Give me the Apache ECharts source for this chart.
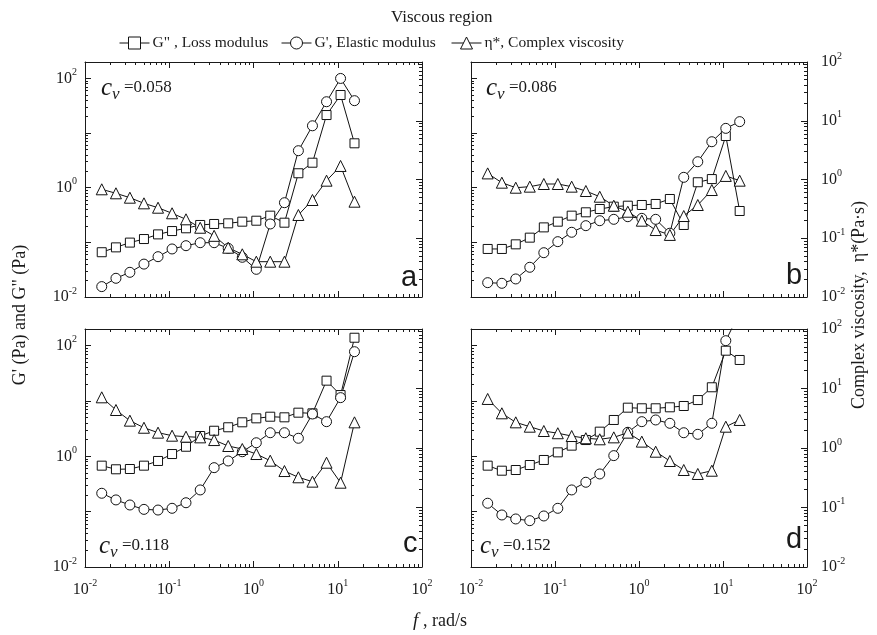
<!DOCTYPE html>
<html><head><meta charset="utf-8">
<script src="https://cdn.jsdelivr.net/npm/echarts@6/dist/echarts.min.js"></script>
<style>html,body{margin:0;padding:0;background:#fff}#c{width:877px;height:635px}</style>
</head><body><div id="c"></div><script>
// ---- data ----
const freq = [0.0158, 0.0233, 0.0341, 0.0501, 0.0736, 0.108, 0.158, 0.233, 0.341, 0.501, 0.736, 1.08, 1.58, 2.33, 3.41, 5.01, 7.36, 10.8, 15.8];

const lossA = [0.066, 0.081, 0.099, 0.115, 0.14, 0.161, 0.181, 0.208, 0.217, 0.223, 0.239, 0.249, 0.308, 0.229, 1.84, 2.87, 21.4, 49.8, 6.5];
const elasticA = [0.0155, 0.022, 0.0283, 0.040, 0.0547, 0.0757, 0.0869, 0.0986, 0.0986, 0.0778, 0.0533, 0.0321, 0.217, 0.532, 4.76, 13.6, 37.5, 100, 39.2];
const viscA = [0.681, 0.582, 0.49, 0.393, 0.331, 0.266, 0.21, 0.151, 0.11, 0.069, 0.0533, 0.0399, 0.0399, 0.0399, 0.249, 0.448, 0.955, 1.70, 0.419];

const lossB = [0.0757, 0.0757, 0.092, 0.122, 0.188, 0.239, 0.308, 0.355, 0.408, 0.45, 0.469, 0.483, 0.504, 0.622, 0.208, 1.26, 1.44, 8.85, 0.375];
const elasticB = [0.0183, 0.0178, 0.0214, 0.035, 0.0647, 0.103, 0.153, 0.202, 0.249, 0.264, 0.295, 0.275, 0.264, 0.147, 1.55, 2.99, 6.95, 12.2, 16.2];
const viscB = [1.27, 0.883, 0.725, 0.755, 0.838, 0.838, 0.755, 0.637, 0.509, 0.358, 0.283, 0.199, 0.138, 0.114, 0.239, 0.368, 0.662, 1.15, 0.955];

const lossC = [0.678, 0.583, 0.59, 0.678, 0.824, 1.10, 1.49, 2.33, 2.90, 3.35, 4.12, 4.86, 5.20, 5.07, 6.15, 5.98, 23.3, 12.8, 139];
const elasticC = [0.215, 0.163, 0.132, 0.110, 0.107, 0.115, 0.145, 0.247, 0.624, 0.824, 1.21, 1.76, 2.67, 2.67, 2.12, 5.82, 4.23, 11.5, 77.8];
const viscC = [7.11, 4.35, 2.88, 2.19, 1.81, 1.61, 1.55, 1.51, 1.36, 1.08, 0.962, 0.792, 0.612, 0.41, 0.322, 0.272, 0.566, 0.261, 2.70];

const lossD = [0.678, 0.55, 0.566, 0.697, 0.859, 1.18, 1.56, 1.97, 2.79, 4.54, 7.57, 7.38, 7.38, 7.69, 8.12, 10.4, 17.7, 81.1, 55.1];
const elasticD = [0.142, 0.0871, 0.0738, 0.0687, 0.0836, 0.115, 0.247, 0.34, 0.48, 1.03, 2.72, 4.23, 4.54, 3.95, 2.67, 2.5, 3.95, 123, 400];
const viscD = [6.67, 3.83, 2.70, 2.28, 1.93, 1.77, 1.59, 1.46, 1.40, 1.51, 1.81, 1.28, 0.867, 0.605, 0.427, 0.366, 0.415, 2.28, 2.96];

const panelLetters = ['a', 'b', 'c', 'd'];
const cvValues = ['0.058', '0.086', '0.118', '0.152'];
const tickExponents = ['-2', '-1', '0', '1', '2'];
const leftTickExponents = ['-2', '0', '2'];
const seriesNames = ['G" , Loss modulus', "G', Elastic modulus", 'η*, Complex viscosity'];

// ---- layout ----
const SERIF = '"Liberation Serif", "Times New Roman", serif';
const SANS = '"Liberation Sans", Arial, sans-serif';
const INK = '#1a1a1a';
const grids = [
  {left: 85, top: 62, width: 337, height: 235},
  {left: 471, top: 62, width: 336, height: 235},
  {left: 85, top: 329, width: 337, height: 238},
  {left: 471, top: 329, width: 336, height: 238}
];
const panels = [
  {loss: lossA, elastic: elasticA, visc: viscA},
  {loss: lossB, elastic: elasticB, visc: viscB},
  {loss: lossC, elastic: elasticC, visc: viscC},
  {loss: lossD, elastic: elasticD, visc: viscD}
];

function makeFormatter(allowed) {
  return function (v) {
    const e = Math.log10(v);
    const r = Math.round(e);
    if (Math.abs(e - r) > 1e-6) return '';
    const idx = allowed.indexOf(String(r));
    if (idx < 0) return '';
    return '10{s|' + allowed[idx] + '}';
  };
}
const labelRich = {s: {fontSize: 10, lineHeight: 10, padding: [0, 0, 12, 0], fontFamily: SERIF, color: INK}};

function mkAxis(opts) {
  return Object.assign({
    type: 'log', logBase: 10,
    axisLine: {show: true, onZero: false, lineStyle: {color: INK, width: 1}},
    axisTick: {show: true, inside: true, length: 6, lineStyle: {color: INK, width: 1}},
    minorTick: {show: true, splitNumber: 9, length: 3, lineStyle: {color: INK, width: 1}},
    splitLine: {show: false}, minorSplitLine: {show: false},
    axisLabel: {show: false}
  }, opts);
}
const lblBase = {fontSize: 16, lineHeight: 17, fontFamily: SERIF, color: INK, rich: labelRich};

const xAxes = [], yAxes = [], series = [];
grids.forEach((g, i) => {
  xAxes.push(mkAxis({gridIndex: i, position: 'bottom', min: 0.01, max: 100,
    axisLabel: Object.assign({show: i >= 2, formatter: makeFormatter(tickExponents), margin: 14, showMinLabel: true, showMaxLabel: true}, lblBase)}));
  xAxes.push(mkAxis({gridIndex: i, position: 'top', min: 0.01, max: 100}));
  yAxes.push(mkAxis({gridIndex: i, position: 'left', min: 0.01, max: 200,
    axisLabel: Object.assign({show: i % 2 === 0, formatter: makeFormatter(leftTickExponents), margin: 8}, lblBase)}));
  yAxes.push(mkAxis({gridIndex: i, position: 'right', min: 0.01, max: 100,
    axisLabel: Object.assign({show: i % 2 === 1, formatter: makeFormatter(tickExponents), margin: 14}, lblBase)}));
  const p = panels[i];
  const common = {type: 'line', xAxisIndex: 2 * i, clip: true, showAllSymbol: true,
    lineStyle: {color: '#111', width: 1}, itemStyle: {color: '#fff', borderColor: '#111', borderWidth: 1},
    emphasis: {disabled: true}, animation: false};
  series.push(Object.assign({}, common, {name: seriesNames[0], yAxisIndex: 2 * i, symbol: 'rect', symbolSize: 9,
    data: freq.map((f, k) => [f, p.loss[k]])}));
  series.push(Object.assign({}, common, {name: seriesNames[1], yAxisIndex: 2 * i, symbol: 'circle', symbolSize: 10,
    data: freq.map((f, k) => [f, p.elastic[k]])}));
  series.push(Object.assign({}, common, {name: seriesNames[2], yAxisIndex: 2 * i + 1, symbol: 'triangle', symbolSize: 11,
    data: freq.map((f, k) => [f, p.visc[k]])}));
});

const cvPos = [{left: 96, top: 72}, {left: 481, top: 72}, {left: 94, top: 530}, {left: 475, top: 530}];
const letterPos = [{left: 396, top: 258}, {left: 781, top: 256}, {left: 398, top: 524}, {left: 781, top: 520}];
const titles = [{text: 'Viscous region', left: 386, top: 4, textStyle: {fontFamily: SERIF, fontSize: 17, fontWeight: 'normal', color: INK}}];
grids.forEach((g, i) => {
  titles.push({text: '{c|c}{v|v}{n| =' + cvValues[i] + '}', left: cvPos[i].left, top: cvPos[i].top,
    textStyle: {fontWeight: 'normal', rich: {
      c: {fontFamily: SERIF, fontStyle: 'italic', fontWeight: 'normal', fontSize: 25, lineHeight: 22, color: INK},
      v: {fontFamily: SERIF, fontStyle: 'italic', fontWeight: 'normal', fontSize: 17, lineHeight: 15, padding: [13, 0, 0, 0], color: INK},
      n: {fontFamily: SERIF, fontWeight: 'normal', fontSize: 17, lineHeight: 22, color: INK}}}});
  titles.push({text: panelLetters[i], left: letterPos[i].left, top: letterPos[i].top,
    textStyle: {fontFamily: SANS, fontSize: 29, fontWeight: 'normal', color: INK}});
});

const legendBase = {selectedMode: false, itemWidth: 30, itemHeight: 15, itemGap: 0, top: 30,
  lineStyle: {width: 1}, itemStyle: {borderWidth: 1},
  textStyle: {fontFamily: SERIF, fontSize: 15.5, color: INK, padding: [0, 0, 0, -2]}};
const legends = [
  Object.assign({}, legendBase, {data: [seriesNames[0]], left: 114}),
  Object.assign({}, legendBase, {data: [seriesNames[1]], left: 276}),
  Object.assign({}, legendBase, {data: [seriesNames[2]], left: 446})
];

const chart = echarts.init(document.getElementById('c'), null, {renderer: 'canvas'});
chart.setOption({
  backgroundColor: '#fff',
  animation: false,
  title: titles,
  legend: legends,
  grid: grids,
  xAxis: xAxes,
  yAxis: yAxes,
  series: series,
  graphic: [
    {type: 'text', x: 20, y: 315, rotation: Math.PI / 2,
      style: {text: 'G\' (Pa) and G" (Pa)', fontFamily: SERIF, fontSize: 18, fill: INK, align: 'center', verticalAlign: 'middle'}},
    {type: 'text', x: 859, y: 305, rotation: Math.PI / 2,
      style: {text: 'Complex viscosity,  η*(Pa·s)', fontFamily: SERIF, fontSize: 18, fill: INK, align: 'center', verticalAlign: 'middle'}},
    {type: 'text', x: 440, y: 621,
      style: {text: '{i|f} , rad/s', fontFamily: SERIF, fontSize: 18, fill: INK, align: 'center', verticalAlign: 'middle',
        rich: {i: {fontFamily: SERIF, fontStyle: 'italic', fontSize: 19, fill: INK}}}}
  ]
});
</script></body></html>
